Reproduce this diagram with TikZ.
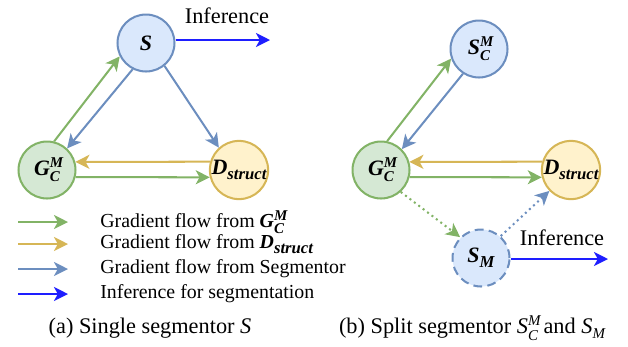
\documentclass[tikz,border=0pt]{standalone}
\usepackage{fontspec}
\IfFontExistsTF{LiberationSerif-Regular.ttf}{%
  \setmainfont{LiberationSerif}[Extension=.ttf, UprightFont=*-Regular, BoldFont=*-Bold,
    ItalicFont=*-Italic, BoldItalicFont=*-BoldItalic]}{%
  \setmainfont{Liberation Serif}}
\usepackage{xcolor}
\usepackage{tikz}
\usetikzlibrary{calc, arrows.meta}
\definecolor{gline}{HTML}{82B366}
\definecolor{gfill}{HTML}{D5E8D4}
\definecolor{bline}{HTML}{6C8EBF}
\definecolor{bfill}{HTML}{DAE8FC}
\definecolor{yline}{HTML}{D6B656}
\definecolor{yfill}{HTML}{FFF2CC}
\definecolor{infer}{RGB}{30,30,255}
\newcommand{\smallfont}{\fontsize{8.5}{9}\selectfont}
\newcommand{\labsupsub}[3]{{\bfseries\itshape #1\rlap{\raisebox{0.8ex}{\smallfont #2}}\raisebox{-0.6ex}{\smallfont #3}}}
\newcommand{\labsub}[2]{{\bfseries\itshape #1\raisebox{-0.5ex}{\fontsize{9.5}{10}\selectfont #2}}}
\newcommand{\capsupsub}[3]{{\itshape #1\rlap{\raisebox{0.8ex}{\smallfont #2}}\raisebox{-0.6ex}{\smallfont #3}}}
\newcommand{\capsub}[2]{{\itshape #1\raisebox{-0.5ex}{\smallfont #2}}}
\tikzstyle{net}    = [circle, minimum size=1.14cm, inner sep=0pt, line width=1.15pt, font=\rmfamily\fontsize{12.5}{14}\selectfont]
\tikzstyle{seg}    = [net, draw=bline, fill=bfill]
\tikzstyle{gen}    = [net, draw=gline, fill=gfill]
\tikzstyle{disc}   = [net, draw=yline, fill=yfill]
\tikzstyle{flow}   = [line width=1.15pt, -{Stealth[length=8pt, width=8pt, inset=2.2pt]}]
\tikzstyle{txt}    = [font=\rmfamily\fontsize{12.7}{14}\selectfont, inner sep=0pt]
\tikzstyle{legtxt} = [font=\rmfamily\fontsize{11.3}{13}\selectfont, inner sep=0pt, anchor=west]

\begin{document}
\begin{tikzpicture}[x=0.02cm, y=-0.02cm]
    \useasboundingbox (0,0) rectangle (628,346);

    % (a) single segmentor
    \node (sA) [seg]  at (146,43)  {\textbf{\textit{S}}};
    \node (gA) [gen]  at (47,170)  {\labsupsub{G}{M}{C}};
    \node (dA) [disc] at (239,170) {\labsub{D}{struct}};
    \coordinate (infA) at (270,40);
    \node (infAtxt) [txt] at (227,16) {Inference};

    % arrows
    \draw [flow, gline] (gA.76)  -- (sA.207);
    \draw [flow, bline] (sA.243) -- (gA.47);
    \draw [flow, bline] (sA.-51) -- (dA.132);
    \draw [flow, yline] (dA.164) -- (gA.16);
    \draw [flow, gline] (gA.-14) -- (dA.194);
    \draw [flow, infer] (sA.east |- infA) -- (infA);

    % (b) split segmentor
    \node (sB)  [seg]  at (479,49)  {\labsupsub{S}{M}{C}};
    \node (gB)  [gen]  at (381,170) {\labsupsub{G}{M}{C}};
    \node (dB)  [disc] at (571,170) {\labsub{D}{struct}};
    \node (smB) [seg, dashed, dash pattern=on 5pt off 3pt] at (481,258) {\labsub{S}{M}};
    \coordinate (infB) at (608,259);
    \node (infBtxt) [txt] at (562,238) {Inference};

    % arrows
    \draw [flow, gline] (gB.78)  -- (sB.199);
    \draw [flow, bline] (sB.237) -- (gB.45);
    \draw [flow, yline] (dB.164) -- (gB.16);
    \draw [flow, gline] (gB.-14) -- (dB.194);
    \draw [flow, gline, dotted] (gB.-48) -- (smB.135);
    \draw [flow, bline, dotted] (smB.48) -- (dB.224);
    \draw [flow, infer] (smB.east |- infB) -- (infB);

    % legend
    \foreach \col/\ypos/\lab [count=\i] in {gline/222/{Gradient flow from \labsupsub{G}{M}{C}},
                                            yline/244/{Gradient flow from \labsub{D}{struct}},
                                            bline/269/{Gradient flow from Segmentor},
                                            infer/294/{Inference for segmentation}} {
      \coordinate (lgs\i) at (18,\ypos);
      \coordinate (lge\i) at (68,\ypos);
      \draw [flow, \col] (lgs\i) -- (lge\i);
      \node (lgt\i) [legtxt] at (100,\ypos) {\lab};
    }

    % captions
    \node (capA) [txt] at (150,328) {(a) Single segmentor \textit{S}};
    \node (capB) [txt] at (472,328) {(b) Split segmentor \capsupsub{S}{M}{C} and \capsub{S}{M}};
\end{tikzpicture}
\end{document}
